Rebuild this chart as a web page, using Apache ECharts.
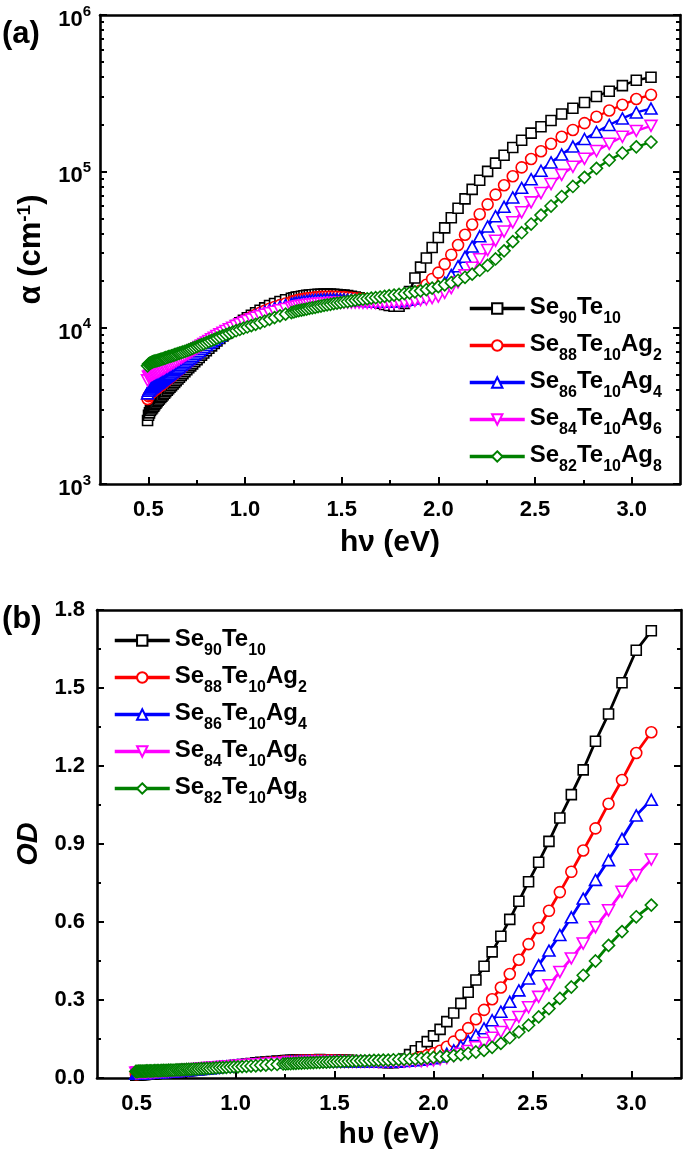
<!DOCTYPE html>
<html>
<head>
<meta charset="utf-8">
<script src="https://cdn.jsdelivr.net/npm/echarts@6/dist/echarts.min.js"></script>
<style>
html,body{margin:0;padding:0;background:#fff;}
#chart{width:685px;height:1158px;}
</style>
</head>
<body>
<div id="chart"></div>
<script>
// ---------- DATA ----------
const seriesNames = ['Se90Te10','Se88Te10Ag2','Se86Te10Ag4','Se84Te10Ag6','Se82Te10Ag8'];

const energy = [0.496,0.501,0.506,0.511,0.517,0.522,0.528,0.533,0.539,0.545,
 0.551,0.557,0.564,0.570,0.577,0.584,0.590,0.598,0.605,0.612,
 0.620,0.628,0.636,0.644,0.653,0.661,0.670,0.679,0.689,0.699,
 0.709,0.719,0.729,0.740,0.752,0.763,0.775,0.787,0.800,0.813,
 0.827,0.841,0.855,0.870,0.886,0.902,0.919,0.936,0.954,0.973,
 0.992,1.012,1.033,1.055,1.078,1.102,1.127,1.153,1.181,1.210,
 1.240,1.253,1.265,1.278,1.292,1.305,1.319,1.333,1.348,1.363,
 1.378,1.393,1.409,1.425,1.442,1.459,1.476,1.494,1.512,1.531,
 1.550,1.570,1.590,1.610,1.632,1.653,1.676,1.699,1.722,1.746,
 1.771,1.797,1.824,1.851,1.879,1.908,1.938,1.968,2.000,2.033,
 2.067,2.102,2.138,2.175,2.214,2.255,2.296,2.340,2.385,2.431,
 2.480,2.531,2.583,2.638,2.696,2.756,2.818,2.884,2.952,3.024,
 3.100];

// absorption coefficient alpha (cm^-1), panel (a)
const alphaSe90Te10 = [2550,2750,2850,2950,3020,3080,3150,3220,3290,3360,
 3430,3500,3580,3650,3730,3810,3890,3980,4070,4160,
 4260,4360,4470,4580,4700,4820,4950,5080,5230,5380,
 5540,5700,5870,6050,6250,6450,6670,6890,7130,7380,
 7650,7930,8220,8530,8860,9200,9560,9930,10320,10730,
 11140,11560,12000,12460,12920,13380,13850,14280,14700,15080,
 15420,15550,15670,15780,15890,15990,16080,16160,16230,16290,
 16340,16370,16390,16400,16390,16360,16310,16240,16150,16030,
 15890,15720,15530,15320,15080,14840,14580,14320,14070,13850,
 13700,13700,14300,17000,20800,24400,27900,32600,37700,43500,
 50500,58100,66700,76700,87700,100000,112800,126700,141900,158100,
 175600,193000,211600,232600,253500,275600,301200,325600,353500,382600,
 400000];
const alphaSe88Te10Ag2 = [3500,3650,3720,3780,3840,3890,3940,3990,4040,4090,
 4150,4210,4270,4330,4400,4470,4540,4620,4700,4780,
 4870,4960,5060,5160,5270,5380,5500,5620,5760,5900,
 6050,6200,6360,6530,6720,6910,7110,7320,7550,7790,
 8000,8250,8500,8780,9070,9370,9680,10000,10330,10670,
 11010,11360,11720,12090,12460,12830,13200,13570,13930,14290,
 14630,14780,14920,15050,15170,15280,15380,15470,15550,15620,
 15680,15730,15760,15780,15790,15780,15760,15720,15670,15600,
 15520,15430,15330,15220,15100,14980,14870,14780,14710,14680,
 14700,14800,15000,15400,16100,17300,18800,20500,22500,25500,
 29300,33800,39300,45700,53200,61500,71000,81500,93000,106000,
 120000,134500,150000,166500,184000,203500,223500,245000,266500,290000,
 309000];
const alphaSe86Te10Ag4 = [3800,3950,4020,4080,4140,4190,4240,4290,4340,4390,
 4440,4500,4560,4620,4690,4760,4830,4910,4990,5070,
 5160,5250,5340,5440,5550,5650,5770,5890,6020,6160,
 6300,6440,6590,6760,6940,7120,7320,7520,7740,7970,
 8150,8380,8620,8870,9140,9420,9710,10010,10320,10640,
 10960,11290,11630,11970,12310,12650,12990,13320,13640,13950,
 14240,14360,14470,14570,14670,14760,14840,14910,14980,15040,
 15090,15130,15160,15180,15190,15190,15180,15160,15130,15090,
 15040,14990,14930,14870,14810,14760,14720,14690,14680,14690,
 14730,14800,14920,15100,15350,15700,16200,16900,17800,19400,
 21700,24700,28400,33000,38400,44400,51600,59300,68100,78400,
 89100,100900,114000,128000,144000,161000,178500,198000,218000,238000,
 252000];
const alphaSe84Te10Ag6 = [4600,4850,4900,4950,5000,5040,5080,5120,5160,5200,
 5250,5300,5350,5400,5460,5520,5580,5650,5720,5790,
 5870,5950,6030,6120,6210,6300,6400,6500,6610,6720,
 6840,6960,7090,7230,7380,7530,7690,7860,8040,8230,
 8430,8630,8840,9060,9290,9520,9760,10000,10250,10510,
 10770,11030,11300,11570,11840,12110,12380,12650,12910,13170,
 13420,13520,13610,13700,13790,13870,13950,14020,14090,14150,
 14210,14260,14310,14350,14390,14420,14450,14470,14480,14490,
 14490,14480,14470,14450,14430,14410,14390,14380,14380,14400,
 14440,14500,14580,14690,14830,15000,15200,15450,15800,16700,
 17900,19500,21600,24200,27400,31400,36000,41200,47200,54700,
 63300,72600,83000,94900,107000,120200,134900,150000,166500,181400,
 195300];
const alphaSe82Te10Ag8 = [5700,5850,5900,5950,6000,6050,6080,6100,6130,6160,
 6190,6220,6260,6300,6340,6380,6420,6470,6520,6560,
 6610,6660,6710,6760,6820,6870,6930,6990,7060,7130,
 7210,7290,7380,7470,7570,7670,7780,7890,8010,8140,
 8280,8420,8570,8720,8880,9040,9210,9380,9560,9740,
 9920,10100,10300,10500,10750,11000,11300,11600,11900,12200,
 12500,12600,12750,12850,12950,13050,13150,13300,13400,13500,
 13650,13750,13900,14000,14100,14250,14350,14450,14600,14700,
 14850,14950,15100,15200,15300,15450,15550,15700,15850,16000,
 16150,16300,16500,16700,16950,17200,17500,17900,18300,18800,
 19400,20100,21000,22000,23300,25000,27500,31000,35500,40500,
 46000,52500,60000,69000,80000,91500,104500,118000,131000,143500,
 154000];

// optical density, panel (b)
const odSe90Te10 = [0.011,0.012,0.012,0.013,0.013,0.013,0.014,0.014,0.014,0.014,
 0.015,0.015,0.015,0.016,0.016,0.016,0.017,0.017,0.018,0.018,
 0.018,0.019,0.019,0.020,0.020,0.021,0.021,0.022,0.022,0.023,
 0.024,0.025,0.025,0.026,0.027,0.028,0.029,0.030,0.031,0.032,
 0.033,0.034,0.035,0.037,0.038,0.040,0.041,0.043,0.044,0.046,
 0.048,0.050,0.052,0.054,0.056,0.058,0.060,0.061,0.063,0.065,
 0.066,0.067,0.067,0.068,0.068,0.069,0.069,0.069,0.070,0.070,
 0.070,0.070,0.070,0.071,0.070,0.070,0.070,0.070,0.069,0.069,
 0.068,0.068,0.067,0.066,0.065,0.064,0.063,0.062,0.061,0.060,
 0.059,0.059,0.061,0.073,0.090,0.105,0.120,0.140,0.162,0.187,
 0.217,0.250,0.287,0.330,0.377,0.430,0.485,0.545,0.610,0.680,
 0.755,0.830,0.910,1.000,1.090,1.185,1.295,1.400,1.520,1.645,
 1.720];
const odSe88Te10Ag2 = [0.015,0.016,0.016,0.016,0.017,0.017,0.017,0.017,0.017,0.018,
 0.018,0.018,0.018,0.019,0.019,0.019,0.020,0.020,0.020,0.021,
 0.021,0.021,0.022,0.022,0.023,0.023,0.024,0.024,0.025,0.025,
 0.026,0.027,0.027,0.028,0.029,0.030,0.031,0.031,0.032,0.033,
 0.034,0.035,0.037,0.038,0.039,0.040,0.042,0.043,0.044,0.046,
 0.047,0.049,0.050,0.052,0.054,0.055,0.057,0.058,0.060,0.061,
 0.063,0.064,0.064,0.065,0.065,0.066,0.066,0.067,0.067,0.067,
 0.067,0.068,0.068,0.068,0.068,0.068,0.068,0.068,0.067,0.067,
 0.067,0.066,0.066,0.065,0.065,0.064,0.064,0.064,0.063,0.063,
 0.063,0.064,0.065,0.066,0.069,0.074,0.081,0.088,0.095,0.105,
 0.120,0.140,0.165,0.192,0.226,0.262,0.303,0.348,0.400,0.455,
 0.515,0.577,0.643,0.715,0.793,0.875,0.960,1.055,1.146,1.250,
 1.330];
const odSe86Te10Ag4 = [0.016,0.017,0.017,0.018,0.018,0.018,0.018,0.018,0.019,0.019,
 0.019,0.019,0.020,0.020,0.020,0.020,0.021,0.021,0.021,0.022,
 0.022,0.023,0.023,0.023,0.024,0.024,0.025,0.025,0.026,0.026,
 0.027,0.028,0.028,0.029,0.030,0.031,0.031,0.032,0.033,0.034,
 0.035,0.036,0.037,0.038,0.039,0.041,0.042,0.043,0.044,0.046,
 0.047,0.049,0.050,0.051,0.053,0.054,0.056,0.057,0.059,0.060,
 0.061,0.062,0.062,0.063,0.063,0.063,0.064,0.064,0.064,0.065,
 0.065,0.065,0.065,0.065,0.065,0.065,0.065,0.065,0.065,0.065,
 0.065,0.064,0.064,0.064,0.064,0.063,0.063,0.063,0.063,0.063,
 0.063,0.064,0.064,0.065,0.066,0.068,0.070,0.073,0.076,0.083,
 0.093,0.106,0.122,0.142,0.165,0.191,0.222,0.255,0.293,0.337,
 0.383,0.434,0.490,0.550,0.618,0.690,0.762,0.838,0.920,1.010,
 1.070];
const odSe84Te10Ag6 = [0.020,0.021,0.021,0.021,0.022,0.022,0.022,0.022,0.022,0.022,
 0.023,0.023,0.023,0.023,0.023,0.024,0.024,0.024,0.025,0.025,
 0.025,0.026,0.026,0.026,0.027,0.027,0.028,0.028,0.028,0.029,
 0.029,0.030,0.030,0.031,0.032,0.032,0.033,0.034,0.035,0.035,
 0.036,0.037,0.038,0.039,0.040,0.041,0.042,0.043,0.044,0.045,
 0.046,0.047,0.049,0.050,0.051,0.052,0.053,0.054,0.056,0.057,
 0.058,0.058,0.059,0.059,0.059,0.060,0.060,0.060,0.061,0.061,
 0.061,0.061,0.062,0.062,0.062,0.062,0.062,0.062,0.062,0.062,
 0.062,0.062,0.062,0.062,0.062,0.062,0.062,0.062,0.062,0.062,
 0.062,0.062,0.063,0.063,0.064,0.065,0.065,0.066,0.068,0.072,
 0.077,0.084,0.093,0.104,0.118,0.135,0.155,0.177,0.203,0.235,
 0.272,0.312,0.357,0.408,0.460,0.517,0.580,0.645,0.716,0.780,
 0.840];
const odSe82Te10Ag8 = [0.025,0.025,0.025,0.026,0.026,0.026,0.026,0.026,0.026,0.026,
 0.027,0.027,0.027,0.027,0.027,0.027,0.028,0.028,0.028,0.028,
 0.028,0.029,0.029,0.029,0.029,0.030,0.030,0.030,0.030,0.031,
 0.031,0.031,0.032,0.032,0.033,0.033,0.033,0.034,0.034,0.035,
 0.036,0.036,0.037,0.037,0.038,0.039,0.040,0.040,0.041,0.042,
 0.043,0.043,0.044,0.045,0.046,0.047,0.049,0.050,0.051,0.052,
 0.054,0.054,0.055,0.055,0.056,0.056,0.057,0.057,0.058,0.058,
 0.059,0.059,0.060,0.060,0.061,0.061,0.062,0.062,0.063,0.063,
 0.064,0.064,0.065,0.065,0.066,0.066,0.067,0.068,0.068,0.069,
 0.069,0.070,0.071,0.072,0.073,0.074,0.075,0.077,0.079,0.081,
 0.083,0.086,0.090,0.095,0.100,0.106,0.118,0.133,0.155,0.177,
 0.203,0.235,0.267,0.306,0.350,0.395,0.450,0.510,0.563,0.620,
 0.665];

// tick values
const xMajorTicks = [0.5, 1.0, 1.5, 2.0, 2.5, 3.0];
const xMinorTicks = [0.75, 1.25, 1.75, 2.25, 2.75];
const alphaMajorTicks = [1e3, 1e4, 1e5, 1e6];
const alphaMinorTicks = [2e3,3e3,4e3,5e3,6e3,7e3,8e3,9e3,
                         2e4,3e4,4e4,5e4,6e4,7e4,8e4,9e4,
                         2e5,3e5,4e5,5e5,6e5,7e5,8e5,9e5];

// ---------- STYLE ----------
const FONT = '"Liberation Sans", Arial, sans-serif';
const colors = ['#000000', '#FF0000', '#0000FF', '#FF00FF', '#008000'];
const symbols = [
  {symbol: 'rect', size: 10, rotate: 0},
  {symbol: 'circle', size: 11, rotate: 0},
  {symbol: 'triangle', size: [12, 11], rotate: 0},
  {symbol: 'triangle', size: [12, 11], rotate: 180},
  {symbol: 'diamond', size: [12, 12], rotate: 0}
];
const alphaData = [alphaSe90Te10, alphaSe88Te10Ag2, alphaSe86Te10Ag4, alphaSe84Te10Ag6, alphaSe82Te10Ag8];
const odData = [odSe90Te10, odSe88Te10Ag2, odSe86Te10Ag4, odSe84Te10Ag6, odSe82Te10Ag8];

const axisLine = {show: true, lineStyle: {color: '#000', width: 2.6}};
const tickLine = {color: '#000', width: 2};
const tickLabel = {fontSize: 22, fontWeight: 'bold', color: '#000', fontFamily: FONT};

function richName(name) {
  return name.match(/[A-Za-z]+|\d+/g).map(t => /\d/.test(t) ? '{s|' + t + '}' : '{m|' + t + '}').join('');
}

function xAxesFor(grid, min, max, title, gap) {
  return [
    {gridIndex: grid, type: 'value', min: min, max: max, position: 'bottom',
     axisLine: axisLine,
     axisTick: {show: true, inside: true, length: 7, customValues: xMajorTicks, lineStyle: tickLine},
     axisLabel: Object.assign({customValues: xMajorTicks, margin: 15, formatter: v => v.toFixed(1)}, tickLabel),
     splitLine: {show: false},
     name: title, nameLocation: 'middle', nameGap: gap,
     nameTextStyle: {fontSize: 30, fontWeight: 'bold', color: '#000', fontFamily: FONT}},
    {gridIndex: grid, type: 'value', min: min, max: max, position: 'bottom',
     axisLine: {show: false},
     axisTick: {show: true, inside: true, length: 4, customValues: xMinorTicks, lineStyle: tickLine},
     axisLabel: {show: false}, splitLine: {show: false}},
    {gridIndex: grid, type: 'value', min: min, max: max, position: 'top',
     axisLine: axisLine, axisTick: {show: false}, axisLabel: {show: false}, splitLine: {show: false}}
  ];
}

const logLabelRich = {
  b: {fontSize: 22, fontWeight: 'bold', color: '#000', fontFamily: FONT, lineHeight: 22, padding: [5, 0, 0, 0], verticalAlign: 'top'},
  s: {fontSize: 15, fontWeight: 'bold', color: '#000', fontFamily: FONT, lineHeight: 15, verticalAlign: 'top'}
};

const option = {
  animation: false,
  backgroundColor: '#ffffff',
  textStyle: {fontFamily: FONT},
  grid: [
    {left: 100, top: 15, width: 580, height: 469},
    {left: 97, top: 610, width: 584, height: 468}
  ],
  xAxis: [].concat(
    xAxesFor(0, 0.25, 3.25, 'hν (eV)', 44),
    xAxesFor(1, 0.3, 3.25, 'hυ (eV)', 42)
  ),
  yAxis: [
    {gridIndex: 0, type: 'log', logBase: 10, min: 1000, max: 1000000, position: 'left',
     axisLine: axisLine,
     axisTick: {show: true, inside: true, length: 7, customValues: alphaMajorTicks, lineStyle: tickLine},
     axisLabel: {customValues: alphaMajorTicks, margin: 9,
       formatter: v => '{b|10}{s|' + Math.round(Math.log10(v)) + '}', rich: logLabelRich},
     splitLine: {show: false},
     name: 'α (cm{s|-1})', nameLocation: 'middle', nameGap: 52, nameRotate: 90,
     nameTextStyle: {fontSize: 31, fontWeight: 'bold', color: '#000', fontFamily: FONT,
       rich: {s: {fontSize: 19, fontWeight: 'bold', color: '#000', fontFamily: FONT, padding: [0, 0, 14, 0]}}}},
    {gridIndex: 0, type: 'log', logBase: 10, min: 1000, max: 1000000, position: 'left',
     axisLine: {show: false},
     axisTick: {show: true, inside: true, length: 4, customValues: alphaMinorTicks, lineStyle: tickLine},
     axisLabel: {show: false}, splitLine: {show: false}},
    {gridIndex: 0, type: 'log', logBase: 10, min: 1000, max: 1000000, position: 'right',
     axisLine: axisLine,
     axisTick: {show: true, inside: true, length: 7, customValues: alphaMajorTicks, lineStyle: tickLine},
     axisLabel: {show: false}, splitLine: {show: false}},
    {gridIndex: 0, type: 'log', logBase: 10, min: 1000, max: 1000000, position: 'right',
     axisLine: {show: false},
     axisTick: {show: true, inside: true, length: 4, customValues: alphaMinorTicks, lineStyle: tickLine},
     axisLabel: {show: false}, splitLine: {show: false}},
    {gridIndex: 1, type: 'value', min: 0, max: 1.8, interval: 0.3, position: 'left',
     axisLine: axisLine,
     axisTick: {show: true, inside: true, length: 7, lineStyle: tickLine},
     minorTick: {show: true, splitNumber: 2, length: 4, lineStyle: tickLine},
     axisLabel: Object.assign({margin: 12, formatter: v => v.toFixed(1)}, tickLabel),
     splitLine: {show: false},
     name: 'OD', nameLocation: 'middle', nameGap: 52, nameRotate: 90,
     nameTextStyle: {fontSize: 29, fontWeight: 'bold', fontStyle: 'italic', color: '#000', fontFamily: FONT}},
    {gridIndex: 1, type: 'value', min: 0, max: 1.8, interval: 0.3, position: 'right',
     axisLine: axisLine,
     axisTick: {show: true, inside: true, length: 7, lineStyle: tickLine},
     minorTick: {show: true, splitNumber: 2, length: 4, lineStyle: tickLine},
     axisLabel: {show: false}, splitLine: {show: false}}
  ],
  legend: [0, 1].map(k => ({
    data: seriesNames,
    orient: 'vertical',
    left: k === 0 ? 463 : 108,
    top: k === 0 ? 290 : 622,
    itemWidth: 55, itemHeight: 13, itemGap: 5,
    selectedMode: false,
    lineStyle: {width: 3.5},
    formatter: richName,
    textStyle: {
      rich: {
        m: {fontSize: 24, fontWeight: 'bold', color: '#000', fontFamily: FONT, lineHeight: 27, verticalAlign: 'top'},
        s: {fontSize: 16, fontWeight: 'bold', color: '#000', fontFamily: FONT, lineHeight: 16, padding: [16, 0, 0, 0], verticalAlign: 'top'}
      }
    }
  })),
  graphic: [
    {type: 'text', left: 2, top: 19, style: {text: '(a)', fontSize: 31, fontWeight: 'bold', fill: '#000', fontFamily: FONT}},
    {type: 'text', left: 2, top: 604, style: {text: '(b)', fontSize: 31, fontWeight: 'bold', fill: '#000', fontFamily: FONT}}
  ],
  series: []
};

function makeSeries(i, xIdx, yIdx, values, lw) {
  return {
    name: seriesNames[i], type: 'line', xAxisIndex: xIdx, yAxisIndex: yIdx,
    data: energy.map((e, j) => [e, values[j]]),
    symbol: symbols[i].symbol, symbolSize: symbols[i].size, symbolRotate: symbols[i].rotate,
    showAllSymbol: true,
    lineStyle: {color: colors[i], width: lw},
    itemStyle: {color: '#ffffff', borderColor: colors[i], borderWidth: 1.6},
    emphasis: {disabled: true},
    z: 2 + i
  };
}
for (let i = 0; i < 5; i++) option.series.push(makeSeries(i, 0, 0, alphaData[i], 2.4));
for (let i = 0; i < 5; i++) option.series.push(makeSeries(i, 3, 4, odData[i], 2.8));

const chart = echarts.init(document.getElementById('chart'), null, {renderer: 'canvas'});
chart.setOption(option);
</script>
</body>
</html>
